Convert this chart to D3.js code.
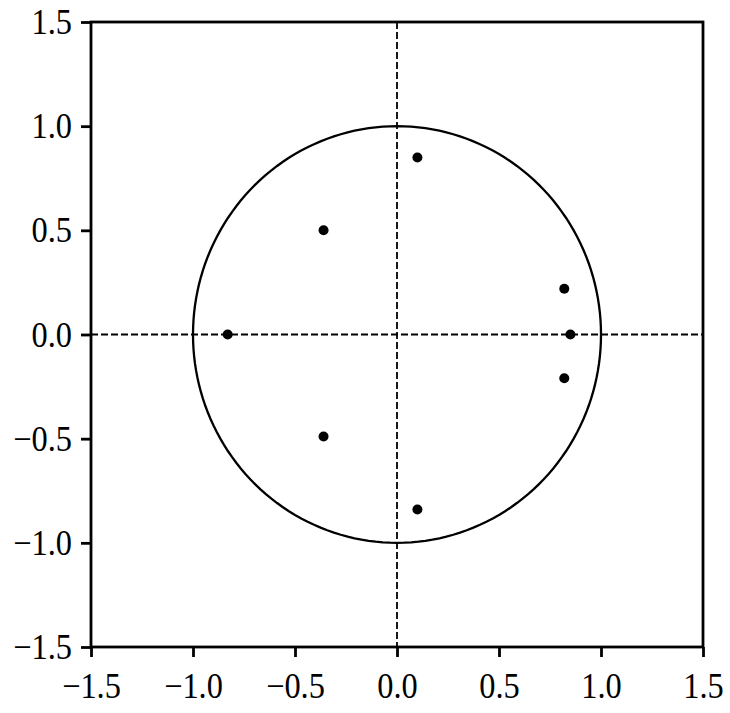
<!DOCTYPE html>
<html><head><meta charset="utf-8">
<script src="https://cdn.jsdelivr.net/npm/d3@7"></script>
<style>body{margin:0;background:#fff}svg{display:block}</style>
</head><body>
<script>
const xTicks = [-1.5, -1.0, -0.5, 0.0, 0.5, 1.0, 1.5];
const yTicks = [-1.5, -1.0, -0.5, 0.0, 0.5, 1.0, 1.5];
const pointsX = [0.10, -0.36, -0.83, 0.82, 0.85, 0.82, -0.36, 0.10];
const pointsY = [0.85, 0.50, 0.00, 0.22, 0.00, -0.21, -0.49, -0.84];
const circleRadius = 1.0;

const W = 730, H = 713;
const m = {left: 91, right: 27, top: 22, bottom: 66};
const svg = d3.select("body").append("svg").attr("width", W).attr("height", H);
const x = d3.scaleLinear().domain([-1.5, 1.5]).range([m.left, W - m.right]);
const y = d3.scaleLinear().domain([-1.5, 1.5]).range([H - m.bottom, m.top]);
const fmt = d => (d < 0 ? "\u2212" : "") + Math.abs(d).toFixed(1);

svg.append("line").attr("x1", x(0)).attr("x2", x(0)).attr("y1", y(1.5)).attr("y2", y(-1.5))
  .attr("stroke", "#000").attr("stroke-width", 1.8).attr("stroke-dasharray", "7,3");
svg.append("line").attr("x1", x(-1.5)).attr("x2", x(1.5)).attr("y1", y(0)).attr("y2", y(0))
  .attr("stroke", "#000").attr("stroke-width", 1.8).attr("stroke-dasharray", "7,3");

const angles = d3.range(0, 361, 2);
svg.append("path")
  .datum(angles)
  .attr("d", d3.line().x(a => x(circleRadius * Math.cos(a * Math.PI / 180))).y(a => y(circleRadius * Math.sin(a * Math.PI / 180))))
  .attr("fill", "none").attr("stroke", "#000").attr("stroke-width", 2.3);

svg.selectAll("circle.pt").data(pointsX.map((v, i) => [v, pointsY[i]])).enter()
  .append("circle").attr("class", "pt")
  .attr("cx", d => x(d[0])).attr("cy", d => y(d[1])).attr("r", 5).attr("fill", "#000");

svg.append("rect").attr("x", x(-1.5)).attr("y", y(1.5)).attr("width", x(1.5) - x(-1.5)).attr("height", y(-1.5) - y(1.5))
  .attr("fill", "none").attr("stroke", "#000").attr("stroke-width", 2.8);

const xa = svg.append("g").attr("transform", `translate(0,${y(-1.5)})`)
  .call(d3.axisBottom(x).tickValues(xTicks).tickFormat(fmt).tickSize(10).tickSizeOuter(0).tickPadding(15));
const ya = svg.append("g").attr("transform", `translate(${x(-1.5)},0)`)
  .call(d3.axisLeft(y).tickValues(yTicks).tickFormat(fmt).tickSize(10).tickSizeOuter(0).tickPadding(9));
[xa, ya].forEach(g => {
  g.select(".domain").remove();
  g.attr("font-family", "Liberation Serif, Times New Roman, serif").attr("font-size", 36);
  g.selectAll(".tick line").attr("stroke", "#000").attr("stroke-width", 2.8);
  g.selectAll("text").attr("fill", "#000");
});
xa.selectAll("text").attr("transform", "scale(0.9,1)");
ya.selectAll("text").each(function() {
  const t = d3.select(this);
  const tx = +t.attr("x");
  t.attr("x", 0).attr("transform", `translate(${tx},0) scale(0.9,1)`);
});
</script>
</body></html>
